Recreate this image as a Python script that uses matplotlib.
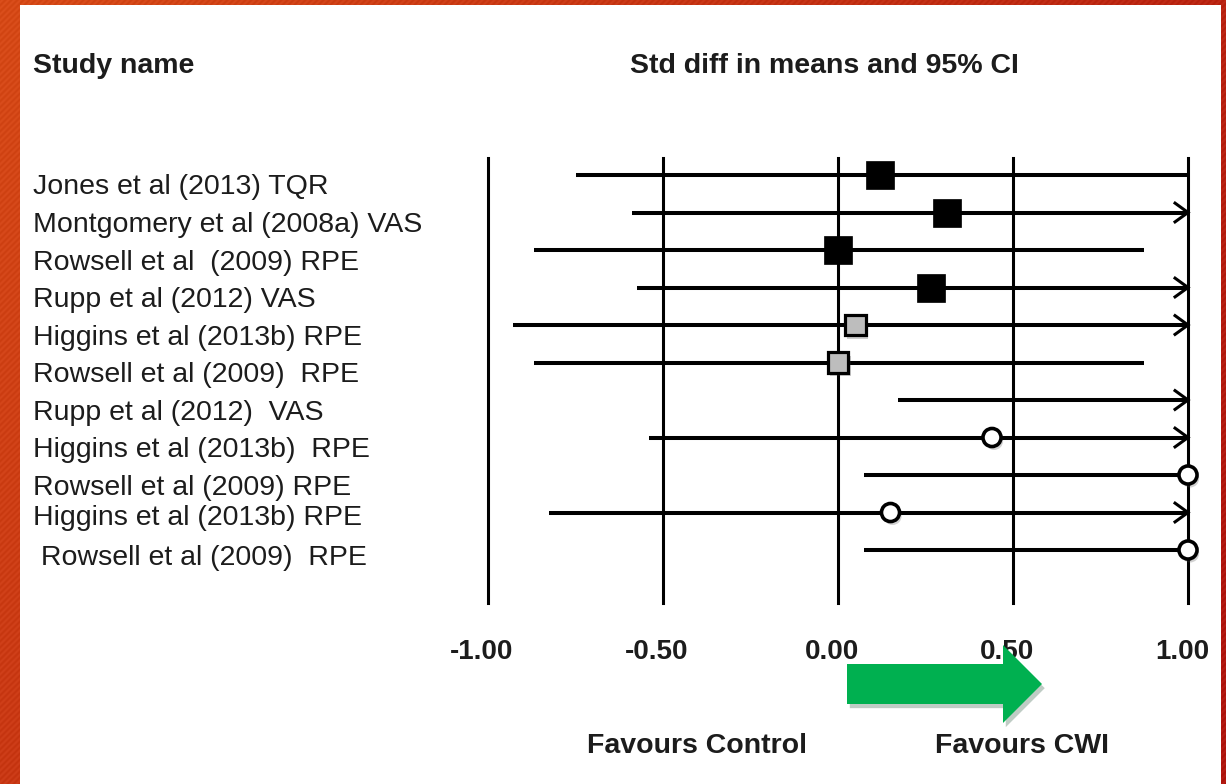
import numpy as np
import matplotlib
matplotlib.use("Agg")
import matplotlib.pyplot as plt
from matplotlib import patheffects as pe
from matplotlib.patches import Rectangle, Polygon
from matplotlib.transforms import blended_transform_factory, ScaledTranslation

plt.rcParams['font.family'] = ['Liberation Sans', 'DejaVu Sans']

# forest plot data (std diff in means, 95% CI)
studies = ["Jones et al (2013) TQR",
           "Montgomery et al (2008a) VAS",
           "Rowsell et al  (2009) RPE",
           "Rupp et al (2012) VAS",
           "Higgins et al (2013b) RPE",
           "Rowsell et al (2009)  RPE",
           "Rupp et al (2012)  VAS",
           "Higgins et al (2013b)  RPE",
           "Rowsell et al (2009) RPE",
           "Higgins et al (2013b) RPE",
           " Rowsell et al (2009)  RPE"]
effect = [0.12, 0.31, 0.00, 0.265, 0.05, 0.00, np.nan, 0.44, 1.00, 0.15, 1.00]
lower = [-0.75, -0.59, -0.87, -0.575, -0.93, -0.87, 0.17, -0.54, 0.075, -0.825, 0.075]
upper = [1.00, 1.00, 0.875, 1.00, 1.00, 0.875, 1.00, 1.00, 1.00, 1.00, 1.00]
past_scale = [False, True, False, True, True, False, True, True, False, True, False]
group = ["black"] * 4 + ["grey"] * 2 + ["open"] * 5

x_ticks = [-1.0, -0.5, 0.0, 0.5, 1.0]
tick_labels = ["-1.00", "-0.50", "0.00", "0.50", "1.00"]

W, H = 1226, 784
INK = "#1c1c1c"
fig = plt.figure(figsize=(W / 100, H / 100), dpi=100)

# orange/red striped frame behind a white panel
bg = fig.add_axes([0, 0, 1, 1], zorder=-10)
bg.axis("off")
yy, xx = np.mgrid[0:H, 0:W]
t = np.clip(0.75 * xx / W + 0.35 * yy / H, 0, 1)[..., None]
orange = np.array([0.84, 0.29, 0.09])
red = np.array([0.69, 0.09, 0.06])
img = orange * (1 - t) + red * t
img = np.clip(img + 0.02 * np.sin(2 * np.pi * (xx + yy) / 6.0)[..., None], 0, 1)
bg.imshow(img, aspect="auto", extent=[0, 1, 0, 1], interpolation="nearest")
bg.set_xlim(0, 1)
bg.set_ylim(0, 1)
bg.add_patch(Rectangle((20 / W, 0), 1201 / W, (H - 5) / H,
                       facecolor="white", edgecolor="none"))

ax = fig.add_axes([488 / W, 1 - 603 / H, 700 / W, 445 / H])
ax.set_xlim(-1, 1)
ax.set_ylim(11.413, -0.4533)
ax.axis("off")

rows = np.arange(len(studies))
for xv in x_ticks:
    ax.axvline(xv, color="black", lw=2.2, zorder=1, clip_on=False)

ax.hlines(rows, lower, upper, color="black", lw=2.9, zorder=2, clip_on=False)

# open chevrons where the interval runs off the scale
dx, dy = 0.037, 0.25
for r, hi, more in zip(rows, upper, past_scale):
    if more:
        ax.plot([hi - dx, hi, hi - dx], [r - dy, r, r + dy], color="black",
                lw=2.2, solid_joinstyle="miter", zorder=3, clip_on=False)

shadow = [pe.SimplePatchShadow(offset=(1.5, -2.5), alpha=0.25), pe.Normal()]
eff = np.array(effect)
grp = np.array(group)
m = grp == "black"
ax.plot(eff[m], rows[m], "s", ms=19.5, mfc="black", mec="black", mew=0.5,
        ls="none", zorder=4, clip_on=False)
m = grp == "grey"
ax.plot(eff[m], rows[m], "s", ms=15, mfc="#bdbdbd", mec="black", mew=2.3,
        ls="none", zorder=4, clip_on=False, path_effects=shadow)
m = grp == "open"
ax.plot(eff[m], rows[m], "o", ms=13, mfc="white", mec="black", mew=2.6,
        ls="none", zorder=4, clip_on=False, path_effects=shadow)

# tick labels under the reference lines
tick_tr = blended_transform_factory(ax.transData, fig.transFigure) + \
    ScaledTranslation(-0.06, 0, fig.dpi_scale_trans)
for xv, lab in zip(x_ticks, tick_labels):
    ax.text(xv, 1 - 659 / H, lab, transform=tick_tr, ha="center",
            va="baseline", fontsize=20, fontweight="bold", color=INK)

# study names
nudge = [0, 0, 0, 0, 0, 0, 0, 0, 0, -7, -4.5]
name_tr = blended_transform_factory(fig.transFigure, ax.transData)
for r, name, n in zip(rows, studies, nudge):
    off = ScaledTranslation(0, -(19.5 + n) / 100, fig.dpi_scale_trans)
    ax.text(33 / W, r, name, transform=name_tr + off, ha="left",
            va="baseline", fontsize=20.5, color=INK)

fig.text(33 / W, 1 - 73 / H, "Study name", ha="left", va="baseline",
         fontsize=20.5, fontweight="bold", color=INK)
fig.text(824 / W, 1 - 73 / H, "Std diff in means and 95% CI", ha="center",
         va="baseline", fontsize=20.5, fontweight="bold", color=INK)
fig.text(697 / W, 1 - 753 / H, "Favours Control", ha="center",
         va="baseline", fontsize=20.5, fontweight="bold", color=INK)
fig.text(1022 / W, 1 - 753 / H, "Favours CWI", ha="center",
         va="baseline", fontsize=20.5, fontweight="bold", color=INK)

# green direction arrow
arrow_px = [(847, 664), (1003, 664), (1003, 645), (1042, 684),
            (1003, 723), (1003, 704), (847, 704)]
arrow = Polygon([(x / W, 1 - y / H) for x, y in arrow_px], closed=True,
                transform=fig.transFigure, facecolor="#00b050",
                edgecolor="none", zorder=10,
                path_effects=[pe.SimplePatchShadow(offset=(2, -3), alpha=0.25),
                              pe.Normal()])
fig.add_artist(arrow)

fig.savefig("out.png", dpi=100)
